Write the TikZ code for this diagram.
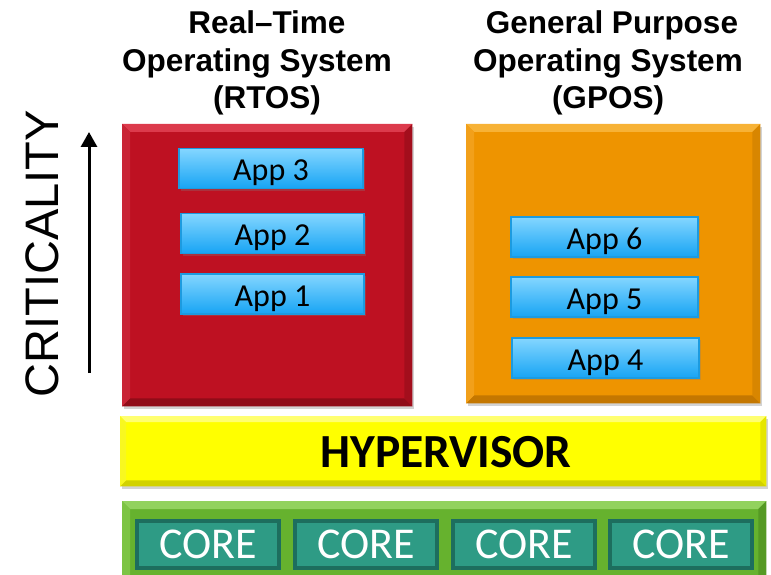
\documentclass[tikz,border=0pt]{standalone}
\usepackage{fontspec}
\setmainfont{Liberation Sans}
\newfontfamily\calibri{Carlito}
\usetikzlibrary{arrows.meta,shadows}
\definecolor{redbase}{HTML}{BE1122}
\definecolor{redtop}{HTML}{DC3A4C}
\definecolor{redleft}{HTML}{C92436}
\definecolor{redright}{HTML}{A30E1C}
\definecolor{redbot}{HTML}{900C18}
\definecolor{orbase}{HTML}{EE9400}
\definecolor{ortop}{HTML}{F7B236}
\definecolor{orleft}{HTML}{F2A01A}
\definecolor{orright}{HTML}{D88600}
\definecolor{orbot}{HTML}{C47700}
\definecolor{yebase}{HTML}{FFFF00}
\definecolor{yetop}{HTML}{FFFF70}
\definecolor{yeleft}{HTML}{F8F820}
\definecolor{yeright}{HTML}{E6E600}
\definecolor{yebot}{HTML}{D2D200}
\definecolor{grbase}{HTML}{66B22E}
\definecolor{grtop}{HTML}{92D25E}
\definecolor{grleft}{HTML}{7CC444}
\definecolor{grright}{HTML}{559A24}
\definecolor{grbot}{HTML}{4A8A1E}
\definecolor{appborder}{HTML}{1C9BE0}
\definecolor{apptop}{HTML}{84D6FF}
\definecolor{appbot}{HTML}{17A4F4}
\definecolor{corefill}{HTML}{2E9B85}
\definecolor{coreline}{HTML}{1D6E5E}
\newcommand\bevelbox[6]{%
  \fill[#2] (#1.north west) -- (#1.north east) -- ([shift={(-#6,#6)}]#1.north east) -- ([shift={(#6,#6)}]#1.north west) -- cycle;
  \fill[#5] (#1.south west) -- (#1.south east) -- ([shift={(-#6,-#6)}]#1.south east) -- ([shift={(#6,-#6)}]#1.south west) -- cycle;
  \fill[#3] (#1.north west) -- (#1.south west) -- ([shift={(#6,-#6)}]#1.south west) -- ([shift={(#6,#6)}]#1.north west) -- cycle;
  \fill[#4] (#1.north east) -- (#1.south east) -- ([shift={(-#6,-#6)}]#1.south east) -- ([shift={(-#6,#6)}]#1.north east) -- cycle;
}
\begin{document}
\begin{tikzpicture}[x=1pt,y=-1pt,
  layer/.style={inner sep=0pt, anchor=north west, drop shadow={opacity=0.35, shadow xshift=2pt, shadow yshift=-3pt}},
  appbox/.style={draw=appborder, line width=1.2pt, top color=apptop, bottom color=appbot,
     minimum height=40pt, inner sep=0pt, text height=24pt, text depth=0pt,
     font=\calibri\fontsize{32}{32}\selectfont,
     drop shadow={opacity=0.3, shadow xshift=2pt, shadow yshift=-2pt}},
  corebox/.style={fill=corefill, draw=coreline, line width=4pt, minimum width=142pt, minimum height=47pt,
     inner sep=0pt, anchor=north west, text=white, font=\calibri\fontsize{44}{44}\selectfont},
  title/.style={anchor=base, font=\bfseries\fontsize{31.5}{31.5}\selectfont},
]
\useasboundingbox (0,0) rectangle (771,575);
% titles
\node[title] (t1a) at (267,34) {Real–Time};
\node[title] (t1b) at (257,72) {Operating System};
\node[title] (t1c) at (267,109) {(RTOS)};
\node[title] (t2a) at (612,34) {General Purpose};
\node[title] (t2b) at (608,72) {Operating System};
\node[title] (t2c) at (608,109) {(GPOS)};
% criticality
\node[rotate=90, font=\fontsize{47}{47}\selectfont, inner sep=0pt] (crit) at (42,254) {CRITICALITY};
\coordinate (arrlow) at (89,373);
\coordinate (arrhigh) at (89,132);
\draw[line width=3pt, -{Triangle[width=16pt,length=15pt]}] (arrlow) -- (arrhigh);
% OS boxes
\node[layer, fill=redbase, minimum width=290pt, minimum height=282pt] (rtos) at (122,124) {};
\bevelbox{rtos}{redtop}{redleft}{redright}{redbot}{8}
\node[layer, fill=orbase, minimum width=294pt, minimum height=279pt] (gpos) at (466,124) {};
\bevelbox{gpos}{ortop}{orleft}{orright}{orbot}{8}
% apps
\node[appbox, minimum width=184pt] (app3) at (271,168.5) {App 3};
\node[appbox, minimum width=183pt] (app2) at (272.5,233.5) {App 2};
\node[appbox, minimum width=183pt] (app1) at (272.5,294) {App 1};
\node[appbox, minimum width=187pt] (app6) at (604.5,237) {App 6};
\node[appbox, minimum width=187pt] (app5) at (604.5,297) {App 5};
\node[appbox, minimum width=187pt] (app4) at (605.5,358) {App 4};
% hypervisor
\node[layer, fill=yebase, minimum width=646pt, minimum height=70pt] (hyp) at (120,416) {};
\bevelbox{hyp}{yetop}{yeleft}{yeright}{yebot}{6}
\node[font=\calibri\bfseries\fontsize{47.5}{47.5}\selectfont, inner sep=0pt] (hyptext) at (446,452) {HYPERVISOR};
% hardware
\node[inner sep=0pt, anchor=north west, fill=grbase, minimum width=644pt, minimum height=95pt] (hw) at (122,501) {};
\bevelbox{hw}{grtop}{grleft}{grright}{grbot}{8}
\node[corebox] (c1) at (135,519) {CORE};
\node[corebox] (c2) at (293,519) {CORE};
\node[corebox] (c3) at (451,519) {CORE};
\node[corebox] (c4) at (608,519) {CORE};
\end{tikzpicture}
\end{document}
